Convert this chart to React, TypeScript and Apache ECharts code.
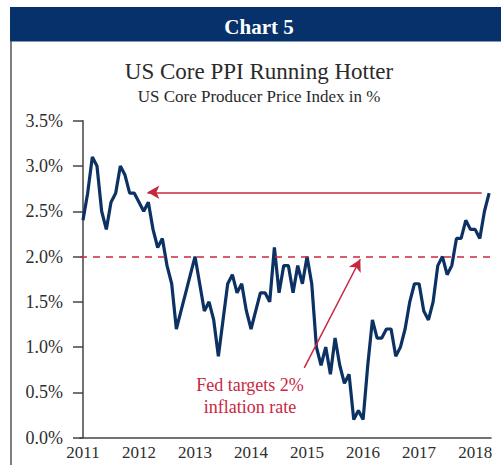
import React, { useEffect, useRef } from "react";
import * as echarts from "echarts";

// Monthly US core PPI, y/y %, Jan 2011 .. Apr 2018
const ppiValues = [
  2.4, 2.7, 3.1, 3.0, 2.5, 2.3, 2.6, 2.7, 3.0, 2.9, 2.7, 2.7,
  2.6, 2.5, 2.6, 2.3, 2.1, 2.2, 1.9, 1.7, 1.2, 1.4, 1.6, 1.8,
  2.0, 1.7, 1.4, 1.5, 1.3, 0.9, 1.3, 1.7, 1.8, 1.6, 1.7, 1.4,
  1.2, 1.4, 1.6, 1.6, 1.5, 2.1, 1.6, 1.9, 1.9, 1.6, 1.9, 1.7,
  2.0, 1.7, 1.0, 0.8, 1.0, 0.7, 1.1, 0.8, 0.6, 0.7, 0.2, 0.3,
  0.2, 0.8, 1.3, 1.1, 1.1, 1.2, 1.2, 0.9, 1.0, 1.2, 1.5, 1.7,
  1.7, 1.4, 1.3, 1.5, 1.9, 2.0, 1.8, 1.9, 2.2, 2.2, 2.4, 2.3,
  2.3, 2.2, 2.5, 2.7,
];
const yearLabels = ["2011", "2012", "2013", "2014", "2015", "2016", "2017", "2018"];
const yTicks = [0, 0.5, 1.0, 1.5, 2.0, 2.5, 3.0, 3.5];
const fedTarget = 2.0;
const currentLevel = 2.71;

const NAVY = "#0c3163";
const RED = "#c8283f";
const TEXT = "#2e2e2e";
const FONT = "'Liberation Serif', 'Times New Roman', serif";

export default function App() {
  const ref = useRef<HTMLDivElement>(null);
  useEffect(() => {
    if (!ref.current) return;
    const chart = echarts.init(ref.current, undefined, { renderer: "svg" });
    const data = ppiValues.map((v, i) => [i, v]);
    const yearMonths = yearLabels.map((_, i) => i * 12);
    chart.setOption({
      animation: false,
      backgroundColor: "#ffffff",
      textStyle: { fontFamily: FONT },
      title: [
        {
          text: "Chart 5",
          left: 259,
          top: 27,
          padding: 0,
          textAlign: "center",
          textVerticalAlign: "middle",
          textStyle: { color: "#ffffff", fontSize: 21, fontWeight: "bold", fontFamily: FONT },
        },
        {
          text: "US Core PPI Running Hotter",
          left: 259,
          top: 71.5,
          padding: 0,
          textAlign: "center",
          textVerticalAlign: "middle",
          textStyle: { color: "#2a2a2a", fontSize: 23, fontWeight: "normal", fontFamily: FONT },
        },
        {
          text: "US Core Producer Price Index in %",
          left: 259,
          top: 96,
          padding: 0,
          textAlign: "center",
          textVerticalAlign: "middle",
          textStyle: { color: "#2a2a2a", fontSize: 17, fontWeight: "normal", fontFamily: FONT },
        },
      ],
      graphic: [
        { type: "rect", shape: { x: 10, y: 7, width: 491, height: 34.5 }, style: { fill: "#06316a" }, z: -1 },
        { type: "line", shape: { x1: 11, y1: 41, x2: 11, y2: 465 }, style: { stroke: "#555555", lineWidth: 1.5 } },
        {
          type: "text",
          x: 250,
          y: 396,
          style: {
            text: "Fed targets 2%\ninflation rate",
            fill: RED,
            font: `18px ${FONT}`,
            align: "center",
            verticalAlign: "middle",
            lineHeight: 21.7,
          },
        },
      ],
      grid: { left: 80, right: 10, top: 120.7, bottom: 27.3 },
      xAxis: {
        type: "value",
        min: -0.64,
        max: 87.4,
        axisLine: { show: true, lineStyle: { color: "#444444", width: 1.5 } },
        axisTick: { show: false },
        splitLine: { show: false },
        axisLabel: {
          customValues: yearMonths,
          formatter: (v: number) => yearLabels[Math.round(v / 12)] ?? "",
          color: TEXT,
          fontSize: 17,
          fontFamily: FONT,
          margin: 6,
        },
      },
      yAxis: {
        type: "value",
        min: 0,
        max: 3.5,
        interval: 0.5,
        axisLine: { show: true, lineStyle: { color: "#444444", width: 1.5 } },
        axisTick: { show: true, inside: false, length: 10, lineStyle: { color: "#444444", width: 1.5 } },
        splitLine: { show: false },
        axisLabel: {
          formatter: (v: number) => (yTicks.includes(v) ? v.toFixed(1) + "%" : ""),
          color: TEXT,
          fontSize: 18,
          fontFamily: FONT,
          margin: 17,
        },
      },
      series: [
        {
          type: "line",
          data,
          showSymbol: false,
          symbol: "none",
          lineStyle: { color: NAVY, width: 3.2 },
          silent: true,
          z: 3,
          markLine: {
            silent: true,
            animation: false,
            label: { show: false },
            emphasis: { disabled: true },
            data: [
              [
                { coord: [-0.64, fedTarget], symbol: "none", lineStyle: { color: RED, width: 1.5, type: [7, 6] } },
                { coord: [87.4, fedTarget], symbol: "none" },
              ],
              [
                { coord: [85.4, currentLevel], symbol: "none", lineStyle: { color: RED, width: 1.5, type: "solid" } },
                { coord: [13.8, currentLevel], symbol: "arrow", symbolSize: [10, 12] },
              ],
              [
                { coord: [47.4, 0.77], symbol: "none", lineStyle: { color: RED, width: 1.5, type: "solid" } },
                { coord: [59.4, 1.97], symbol: "arrow", symbolSize: [10, 12] },
              ],
            ],
          },
        },
      ],
    });
    return () => chart.dispose();
  }, []);
  return (
    <div
      ref={ref}
      style={{ position: "fixed", left: 0, top: 0, width: 501, height: 465, background: "#ffffff" }}
    />
  );
}
